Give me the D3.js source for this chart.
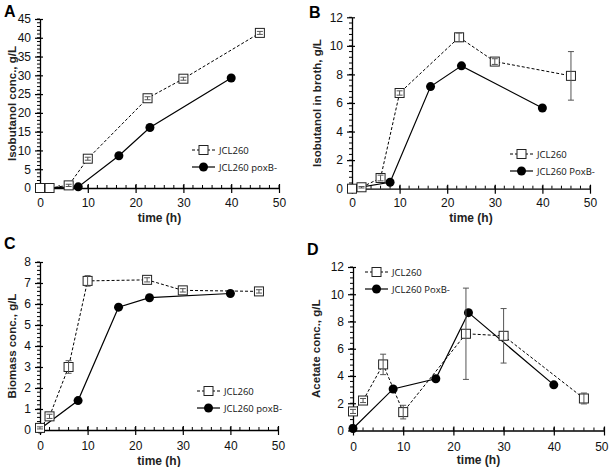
<!DOCTYPE html>
<html><head><meta charset="utf-8">
<script src="https://cdn.jsdelivr.net/npm/d3@7"></script>
<style>body{margin:0;background:#fff}svg{display:block}</style>
</head><body>
<svg id="c" width="609" height="467"></svg>
<script>
// ---- data ----
const seriesNames = ["JCL260", "JCL260 poxB-"];
const seriesNamesCap = ["JCL260", "JCL260 PoxB-"];
const timeWT  = [0, 2, 6, 10, 22.5, 30, 46];
const timeKO  = [0, 8, 16.5, 23, 40];
const xTicks  = [0, 10, 20, 30, 40, 50];

// A: isobutanol conc.
const isoWT = [0, 0, 0.7, 7.8, 23.9, 29.1, 41.3];
const isoWTerr = [0, 0, 0.3, 0.4, 0.4, 0.4, 0.4];
const isoKO = [0, 0.3, 8.6, 16.1, 29.3];
const isoTicks = [0, 5, 10, 15, 20, 25, 30, 35, 40, 45];

// B: isobutanol in broth
const brothWT = [0, 0.1, 0.75, 6.7, 10.6, 8.9, 7.9];
const brothWTerr = [0, 0.05, 0.2, 0.15, 0.3, 0.2, 1.7];
const brothKO = [0, 0.45, 7.15, 8.6, 5.65];
const brothTicks = [0, 2, 4, 6, 8, 10, 12];

// C: biomass
const bioWT = [0.1, 0.65, 3.0, 7.1, 7.15, 6.65, 6.6];
const bioWTerr = [0.05, 0.1, 0.3, 0.25, 0.1, 0.08, 0.08];
const bioKO = [0.05, 1.4, 5.85, 6.3, 6.5];
const bioTicks = [0, 1, 2, 3, 4, 5, 6, 7, 8];

// D: acetate
const aceWT = [1.4, 2.2, 4.85, 1.35, 7.1, 6.95, 2.35];
const aceWTerr = [0.15, 0.15, 0.75, 0.5, 3.35, 2.0, 0.4];
const aceKO = [0.15, 3.05, 3.8, 8.65, 3.35];
const aceTicks = [0, 2, 4, 6, 8, 10, 12];

// ---- panels ----
const panels = [
  {letter:"A", yTitle:"Isobutanol conc., g/L", yMax:45, yTicks:isoTicks, yMinor:1,
   wt:isoWT, err:isoWTerr, ko:isoKO, names:seriesNames,
   box:{x0:40, x1:279, y0:188, y1:19}, letterPos:[4,17], yTitleX:11, xTickOff:15, xTitleY:221.5,
   leg:{x:192, y:150}},
  {letter:"B", yTitle:"Isobutanol in broth, g/L", yMax:12, yTicks:brothTicks, yMinor:0.4,
   wt:brothWT, err:brothWTerr, ko:brothKO, names:seriesNamesCap,
   box:{x0:352, x1:590, y0:188.7, y1:17.3}, letterPos:[309,18], yTitleX:316, xTickOff:14.5, xTitleY:221.5,
   leg:{x:510, y:154}},
  {letter:"C", yTitle:"Biomass conc., g/L", yMax:8, yTicks:bioTicks, yMinor:0.2,
   wt:bioWT, err:bioWTerr, ko:bioKO, names:seriesNames,
   box:{x0:40, x1:278, y0:430, y1:262}, letterPos:[4,249], yTitleX:11, xTickOff:16, xTitleY:464.5,
   leg:{x:197, y:391}},
  {letter:"D", yTitle:"Acetate conc., g/L", yMax:12, yTicks:aceTicks, yMinor:0.4,
   wt:aceWT, err:aceWTerr, ko:aceKO, names:seriesNamesCap,
   box:{x0:353, x1:604, y0:430.5, y1:267}, letterPos:[307,255], yTitleX:315, xTickOff:16.5, xTitleY:464,
   leg:{x:365, y:272}}
];

const svg = d3.select("#c");
const W = 609;
const AX = "Arial, 'Liberation Sans', sans-serif";

panels.forEach(p => {
  const g = svg.append("g");
  const x = d3.scaleLinear().domain([0, 50]).range([p.box.x0, p.box.x1]);
  const y = d3.scaleLinear().domain([0, p.yMax]).range([p.box.y0, p.box.y1]);

  // minor ticks x (every 2, above axis)
  const xMinor = d3.range(0, 50.001, 2);
  g.selectAll(null).data(xMinor).join("line")
    .attr("x1", d => x(d)).attr("x2", d => x(d))
    .attr("y1", y(0)).attr("y2", y(0) - 3)
    .attr("stroke", "#000").attr("stroke-width", 1);
  // minor ticks y (left of axis)
  const yMin = d3.range(0, p.yMax + 1e-6, p.yMinor);
  g.selectAll(null).data(yMin).join("line")
    .attr("x1", x(0)).attr("x2", x(0) - 3)
    .attr("y1", d => y(d)).attr("y2", d => y(d))
    .attr("stroke", "#000").attr("stroke-width", 1);

  // axes
  const xa = g.append("g").attr("transform", `translate(0,${y(0)})`)
    .call(d3.axisBottom(x).tickValues(xTicks).tickSize(5).tickSizeOuter(0));
  xa.selectAll(".tick line").attr("y1", -4).attr("stroke-width", 1.2);
  xa.select(".domain").attr("stroke-width", 1.3);
  xa.selectAll("text").attr("font-family", AX).attr("font-size", 12)
    .attr("y", p.xTickOff).attr("dy", "0.35em").attr("fill", "#111")
    .attr("text-anchor", d => x(d) + 8 > W ? "end" : "middle")
    .attr("x", d => x(d) + 8 > W ? W - 1 - x(d) : 0);

  const ya = g.append("g").attr("transform", `translate(${x(0)},0)`)
    .call(d3.axisLeft(y).tickValues(p.yTicks).tickSize(5).tickSizeOuter(0));
  ya.selectAll(".tick line").attr("x1", 3).attr("stroke-width", 1.2);
  ya.select(".domain").attr("stroke-width", 1.3);
  ya.selectAll("text").attr("font-family", AX).attr("font-size", 12).attr("x", -9).attr("fill", "#111");

  // titles
  g.append("text").attr("x", p.letterPos[0]).attr("y", p.letterPos[1])
    .attr("font-family", AX).attr("font-weight", "bold").attr("font-size", 16).text(p.letter);
  g.append("text").attr("transform", `translate(${p.yTitleX + 5},${(p.box.y0 + p.box.y1) / 2}) rotate(-90)`)
    .attr("text-anchor", "middle").attr("font-family", AX).attr("font-weight", "bold")
    .attr("font-size", 11.5).attr("fill", "#222").text(p.yTitle);
  g.append("text").attr("x", (p.box.x0 + p.box.x1) / 2).attr("y", p.xTitleY)
    .attr("text-anchor", "middle").attr("font-family", AX).attr("font-weight", "bold")
    .attr("font-size", 12).attr("fill", "#222").text("time (h)");

  const line = d3.line().x(d => x(d[0])).y(d => y(d[1]));
  const wtData = timeWT.map((t, i) => [t, p.wt[i], p.err[i]]);
  const koData = timeKO.map((t, i) => [t, p.ko[i]]);

  // lines
  g.append("path").datum(koData).attr("d", line).attr("fill", "none")
    .attr("stroke", "#000").attr("stroke-width", 1.2);
  g.append("path").datum(wtData).attr("d", line).attr("fill", "none")
    .attr("stroke", "#000").attr("stroke-width", 1).attr("stroke-dasharray", "3,2");

  // KO markers
  g.selectAll(null).data(koData).join("circle")
    .attr("cx", d => x(d[0])).attr("cy", d => y(d[1])).attr("r", 4.5).attr("fill", "#000");

  // WT squares
  g.selectAll(null).data(wtData).join("rect")
    .attr("x", d => x(d[0]) - 4.5).attr("y", d => y(d[1]) - 4.5)
    .attr("width", 9).attr("height", 9).attr("fill", "#fff").attr("stroke", "#222").attr("stroke-width", 1);

  // error bars (drawn over squares)
  const eb = g.selectAll(null).data(wtData.filter(d => d[2] > 0)).join("g").attr("stroke", "#555").attr("stroke-width", 1);
  eb.append("line").attr("x1", d => x(d[0])).attr("x2", d => x(d[0]))
    .attr("y1", d => y(d[1] - d[2])).attr("y2", d => y(d[1] + d[2]));
  eb.append("line").attr("x1", d => x(d[0]) - 3).attr("x2", d => x(d[0]) + 3)
    .attr("y1", d => y(d[1] + d[2])).attr("y2", d => y(d[1] + d[2]));
  eb.append("line").attr("x1", d => x(d[0]) - 3).attr("x2", d => x(d[0]) + 3)
    .attr("y1", d => y(d[1] - d[2])).attr("y2", d => y(d[1] - d[2]));

  // legend
  const lg = g.append("g").attr("transform", `translate(${p.leg.x},${p.leg.y})`);
  lg.append("line").attr("x1", 0).attr("x2", 23).attr("y1", 0).attr("y2", 0)
    .attr("stroke", "#000").attr("stroke-dasharray", "3,2");
  lg.append("rect").attr("x", 7).attr("y", -4.5).attr("width", 9).attr("height", 9)
    .attr("fill", "#fff").attr("stroke", "#222");
  lg.append("text").attr("x", 27).attr("y", 3.5).attr("font-family", "'Open Sans', sans-serif")
    .attr("font-size", 9.5).attr("fill", "#111").text(p.names[0]);
  lg.append("line").attr("x1", 0).attr("x2", 23).attr("y1", 17).attr("y2", 17)
    .attr("stroke", "#000").attr("stroke-width", 1.2);
  lg.append("circle").attr("cx", 11.5).attr("cy", 17).attr("r", 4.5).attr("fill", "#000");
  lg.append("text").attr("x", 27).attr("y", 20.5).attr("font-family", "'Open Sans', sans-serif")
    .attr("font-size", 9.5).attr("fill", "#111").text(p.names[1]);
});
</script>
</body></html>
